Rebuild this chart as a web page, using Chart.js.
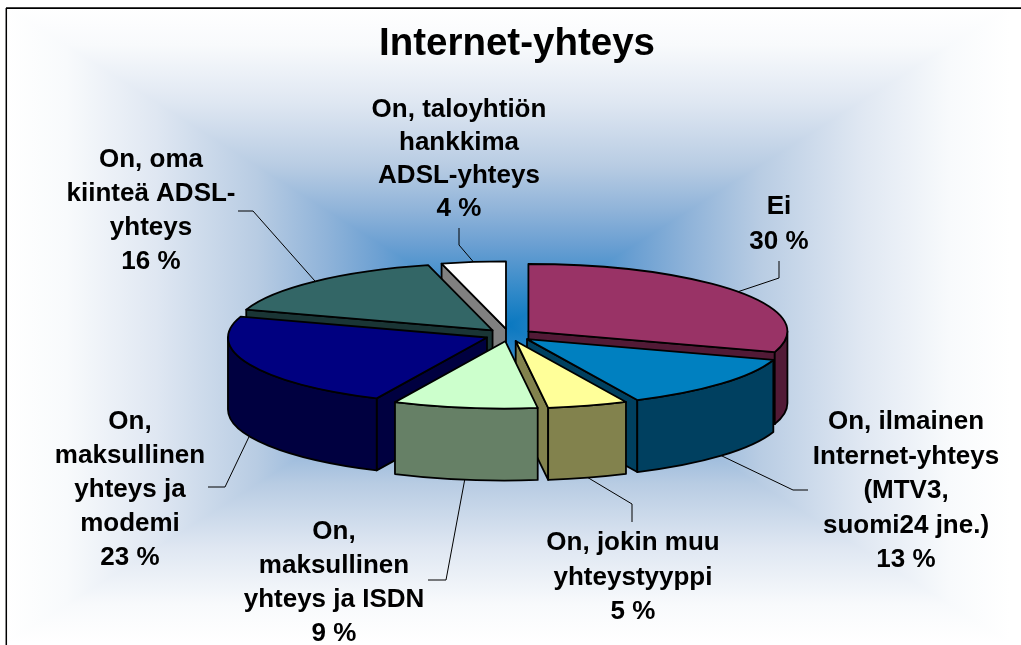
<!DOCTYPE html>
<html><head><meta charset="utf-8">
<style>html,body{margin:0;padding:0;background:#fff}canvas{display:block}</style>
<script src="https://cdn.jsdelivr.net/npm/chart.js@4/dist/chart.umd.js"></script>
</head><body>
<canvas id="c" width="1021" height="645"></canvas>
<script>
const titleText = 'Internet-yhteys';
const categories = ['Ei','On, ilmainen Internet-yhteys (MTV3, suomi24 jne.)','On, jokin muu yhteystyyppi','On, maksullinen yhteys ja ISDN','On, maksullinen yhteys ja modemi','On, oma kiinteä ADSL-yhteys','On, taloyhtiön hankkima ADSL-yhteys'];
const values = [30,13,5,9,23,16,4];
const labelLines = [
  ['Ei'],
  ['On, ilmainen','Internet-yhteys','(MTV3,','suomi24 jne.)'],
  ['On, jokin muu','yhteystyyppi'],
  ['On,','maksullinen','yhteys ja ISDN'],
  ['On,','maksullinen','yhteys ja','modemi'],
  ['On, oma','kiinteä ADSL-','yhteys'],
  ['On, taloyhtiön','hankkima','ADSL-yhteys']
];
const topColors  = ['#993366','#0080C0','#FFFF99','#CCFFCC','#000080','#336666','#FFFFFF'];
const wallColors = ['#521A36','#004060','#82824D','#668066','#000040','#1A3535','#808080'];

// layout (not data)
const view = {cx:509, cy:335, squash:0.26, explode:24, depth:72, radius:259};
const labelBoxes = [
  {x:779,y:207,lh:35},{x:906,y:422,lh:34.5},{x:633,y:543,lh:34.5},{x:334,y:532,lh:34},
  {x:130,y:422,lh:34},{x:151,y:160,lh:34},{x:459,y:110,lh:33}
];
const leaderBends = [
  [[779,278],[779,261]],
  [[793,490],[808,490]],
  [[632,504],[632,522]],
  [[446,580],[428,580]],
  [[225,487],[208,487]],
  [[253,211],[238,211]],
  [[459,245],[459,228]]
];

const pie3d = {
  id:'pie3d',
  beforeDraw(chart){
    const {ctx} = chart;
    const L=6,T=7,R=1021,B=645,mx=508,my=325,hw=502,hh=318;
    const stops=[[0,'#0a78c0'],[.1,'#2f88c8'],[.25,'#6a9fd2'],[.36,'#8fb3d9'],[.5,'#b8cce3'],[.7,'#dfe7f2'],[.88,'#f8fafc'],[1,'#ffffff']];
    const mk=(x0,y0,x1,y1)=>{const g=ctx.createLinearGradient(x0,y0,x1,y1);
      stops.forEach(([t,c])=>{g.addColorStop(.5+t/2,c);g.addColorStop(.5-t/2,c);});return g;};
    ctx.save();
    ctx.fillStyle='#fff';ctx.fillRect(0,0,1021,645);
    ctx.fillStyle=mk(mx-hw,0,mx+hw,0);ctx.fillRect(L,T,R-L,B-T);
    ctx.globalCompositeOperation='lighten';
    ctx.fillStyle=mk(0,my-hh,0,my+hh);ctx.fillRect(L,T,R-L,B-T);
    ctx.restore();
    ctx.save();
    ctx.strokeStyle='#000';
    ctx.lineWidth=1.5;ctx.beginPath();ctx.moveTo(6.3,646);ctx.lineTo(6.3,8);ctx.stroke();
    ctx.lineWidth=1.8;ctx.beginPath();ctx.moveTo(6,8.2);ctx.lineTo(1021,8.2);ctx.stroke();
    ctx.restore();
  },
  beforeDatasetsDraw(chart){
    const {ctx} = chart;
    const arcs = chart.getDatasetMeta(0).data;
    const v = view, TAU = Math.PI*2;
    const place = (arc)=>{
      const mid=(arc.startAngle+arc.endAngle)/2;
      const dx=Math.cos(mid)*v.explode, dy=Math.sin(mid)*v.explode*v.squash;
      ctx.translate(v.cx+dx, v.cy+dy);
      ctx.scale(1,v.squash);
      ctx.translate(-arc.x,-arc.y);
    };
    const pt=(arc,a,r)=>[arc.x+Math.cos(a)*r, arc.y+Math.sin(a)*r];
    // walls, back to front
    const order = arcs.map((a,i)=>i).sort((p,q)=>{
      const m=i=>Math.sin((arcs[i].startAngle+arcs[i].endAngle)/2);return m(p)-m(q);});
    const paint=(fill)=>{ctx.fillStyle=fill;ctx.fill();ctx.strokeStyle='#000';ctx.lineWidth=1.8;ctx.lineJoin='round';ctx.stroke();};
    order.forEach(i=>{
      const arc=arcs[i], r=arc.outerRadius, d=v.depth/v.squash;
      // radial cut faces that look towards the viewer
      [[arc.startAngle,-1],[arc.endAngle,1]].forEach(([a,sign])=>{
        if(sign*Math.cos(a)<=0.001) return;
        ctx.save();place(arc);
        ctx.beginPath();
        const p=pt(arc,a,r);
        ctx.moveTo(arc.x,arc.y);ctx.lineTo(p[0],p[1]);ctx.lineTo(p[0],p[1]+d);ctx.lineTo(arc.x,arc.y+d);ctx.closePath();
        ctx.restore();paint(wallColors[i]);
      });
      // outer rim, only the part that faces the viewer
      const ranges=[[0,Math.PI],[TAU,TAU+Math.PI],[-TAU,-Math.PI]];
      ranges.forEach(([lo,hi])=>{
        const s=Math.max(arc.startAngle,lo), e=Math.min(arc.endAngle,hi);
        if(e<=s) return;
        ctx.save();place(arc);
        ctx.beginPath();
        ctx.arc(arc.x,arc.y,r,s,e);
        ctx.arc(arc.x,arc.y+d,r,e,s,true);
        ctx.closePath();
        ctx.restore();paint(wallColors[i]);
      });
    });
    // top faces drawn by the library's own arc elements
    arcs.forEach((arc,i)=>{
      ctx.save();place(arc);arc.draw(ctx);ctx.restore();
      ctx.save();place(arc);
      ctx.beginPath();ctx.moveTo(arc.x,arc.y);
      ctx.arc(arc.x,arc.y,arc.outerRadius,arc.startAngle,arc.endAngle);ctx.closePath();
      ctx.restore();
      ctx.strokeStyle='#000';ctx.lineWidth=1.8;ctx.lineJoin='round';ctx.stroke();
    });
    // leaders and labels
    arcs.forEach((arc,i)=>{
      const mid=(arc.startAngle+arc.endAngle)/2;
      const ex=Math.cos(mid)*(arc.outerRadius+v.explode), ey=Math.sin(mid)*(arc.outerRadius+v.explode)*v.squash;
      const front=Math.sin(mid)>0?v.depth:0;
      ctx.strokeStyle='#000';ctx.lineWidth=1;
      ctx.beginPath();ctx.moveTo(v.cx+ex,v.cy+ey+front);
      leaderBends[i].forEach(b=>ctx.lineTo(b[0],b[1]));ctx.stroke();
      const b=labelBoxes[i];
      const lines=[...labelLines[i], values[i]+' %'];
      ctx.fillStyle='#000';ctx.font='bold 26px "Liberation Sans", Arial, sans-serif';
      ctx.textAlign='center';ctx.textBaseline='middle';
      lines.forEach((t,k)=>ctx.fillText(t,b.x,b.y+k*b.lh));
    });
    return false;
  }
};

new Chart(document.getElementById('c'),{
  type:'pie',
  data:{labels:categories,datasets:[{data:values,backgroundColor:topColors,borderWidth:0,radius:view.radius,clip:false}]},
  options:{
    responsive:false,animation:false,
    layout:{padding:{left:13,top:0,right:0,bottom:0}},
    events:[],
    plugins:{
      legend:{display:false},tooltip:{enabled:false},
      title:{display:true,text:titleText,color:'#000',font:{family:'"Liberation Sans", Arial, sans-serif',size:38.5,weight:'bold'},padding:{top:21,bottom:8}}
    }
  },
  plugins:[pie3d]
});
</script>
</body></html>
